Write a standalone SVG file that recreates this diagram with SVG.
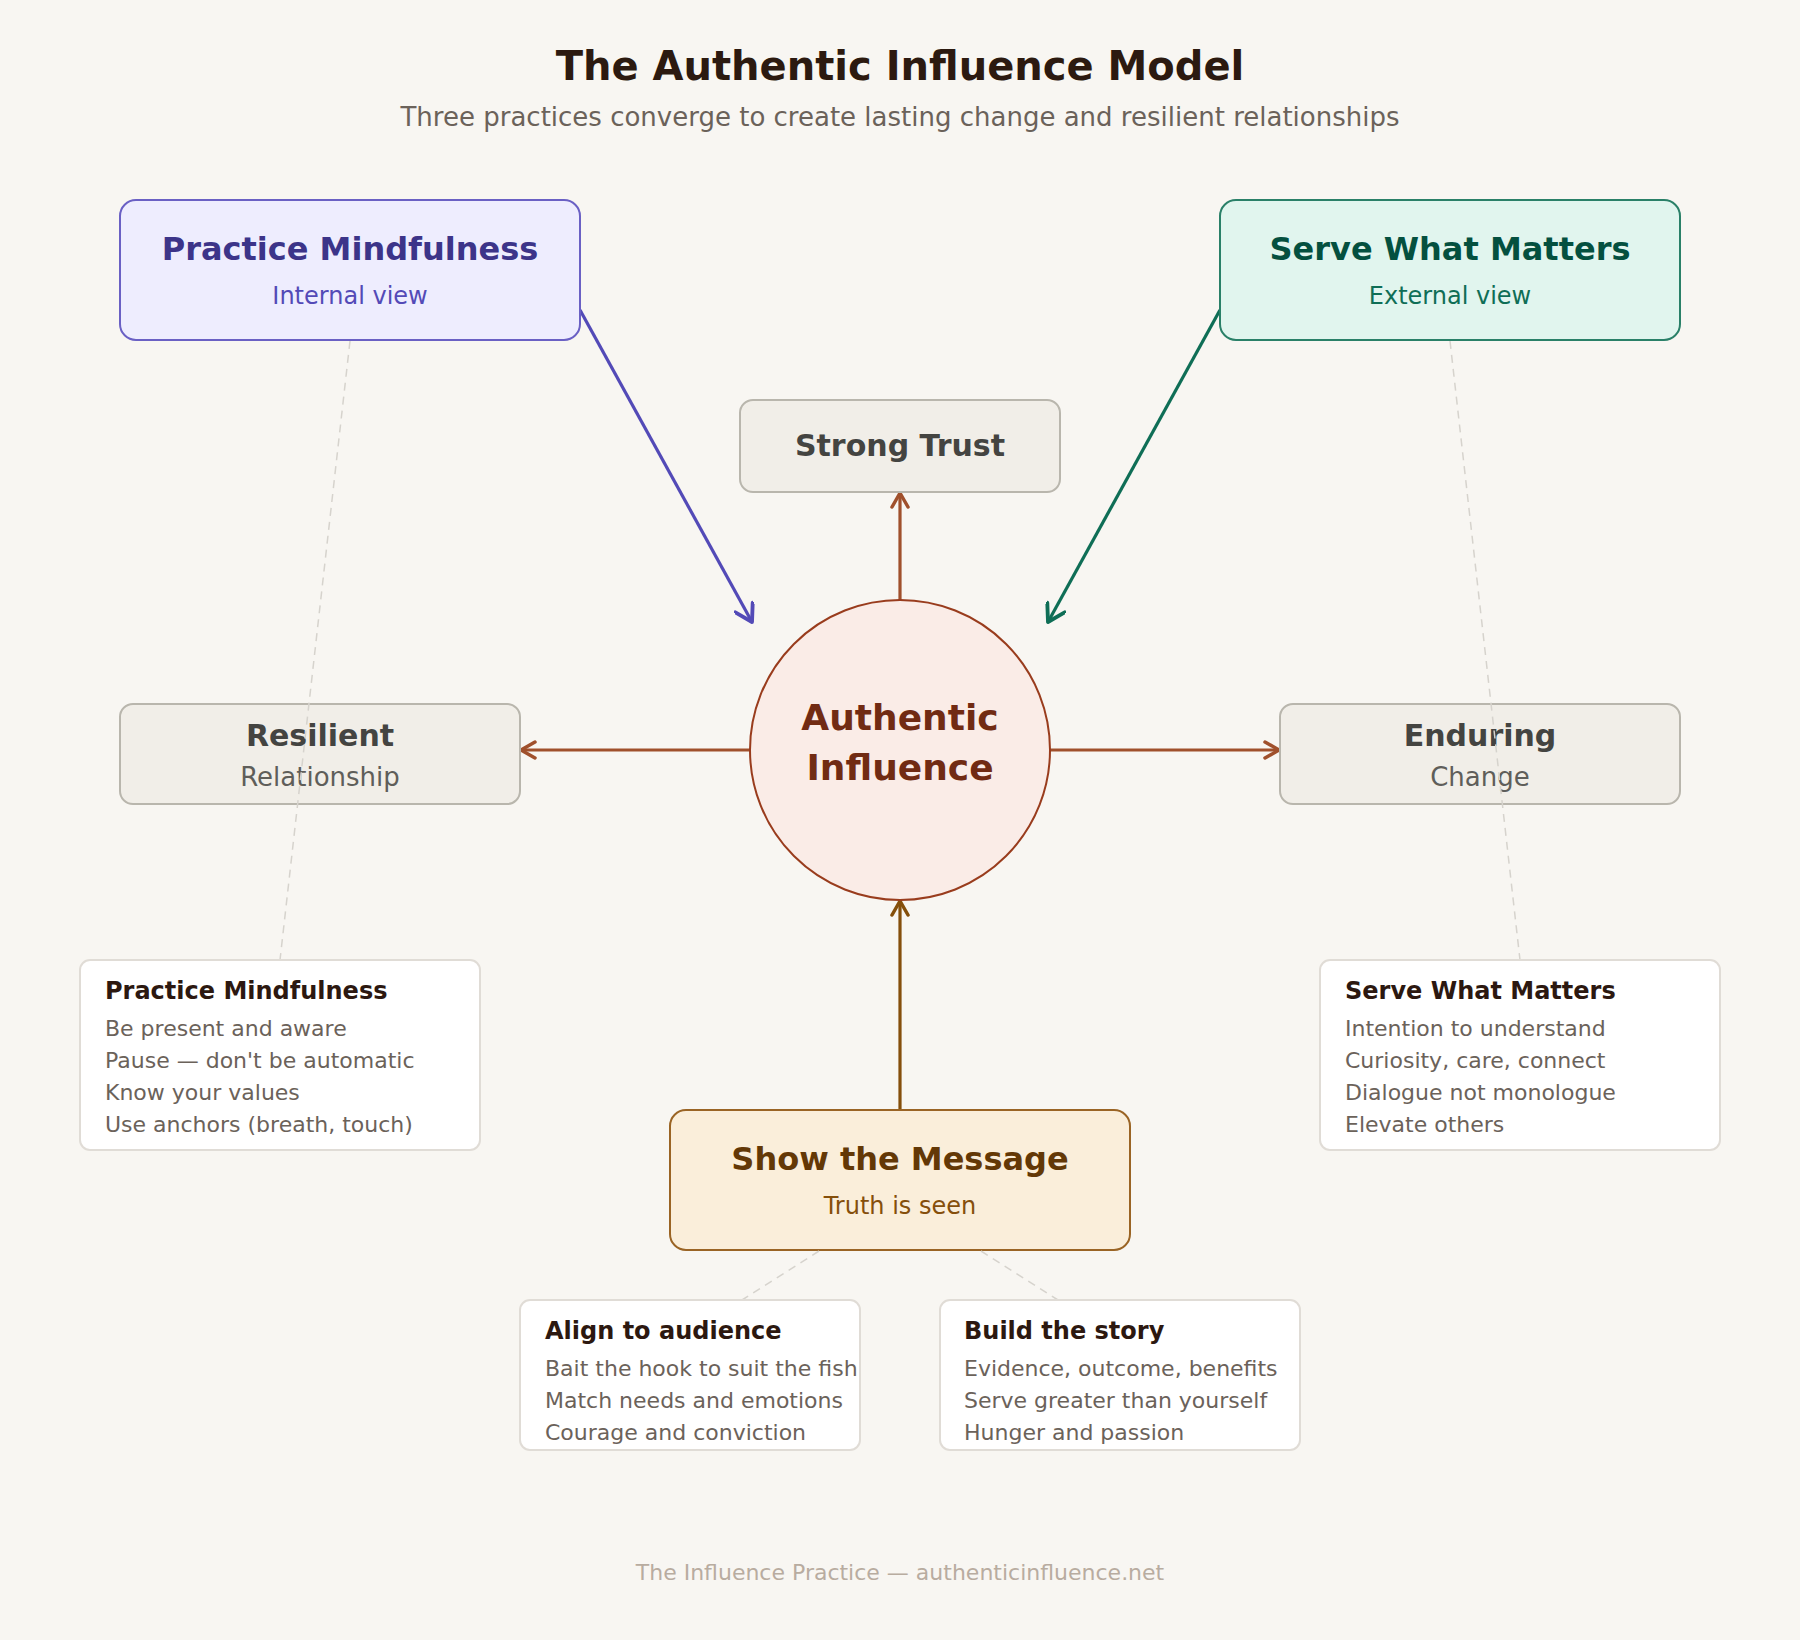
<svg xmlns="http://www.w3.org/2000/svg" width="1800" height="1640" viewBox="0 0 1800 1640">
<defs>
<style>
text{font-family:"DejaVu Sans","Liberation Sans",sans-serif;text-anchor:middle}
.b{font-weight:bold}
.ntitle{font-weight:bold;font-size:24px;fill:#2c1810;text-anchor:start}
.nline{font-size:22px;fill:#6b625a;text-anchor:start}
.note{fill:#ffffff;stroke:#e0dcd6;stroke-width:2}
.grey{fill:#f1eee8;stroke:#b9b6ad;stroke-width:2}
.gt{font-weight:bold;font-size:30px;fill:#444441}
.gs{font-size:26px;fill:#5f5e5a}
.dash{stroke:#d6d3cd;stroke-width:1.5;stroke-dasharray:8 6;fill:none}
</style>
<marker id="aS" viewBox="0 0 20 20" refX="18" refY="10" markerWidth="20" markerHeight="20" markerUnits="userSpaceOnUse" orient="auto"><path d="M4,2 L18,10 L4,18" fill="none" stroke="#a0502c" stroke-width="3.5" stroke-linecap="round" stroke-linejoin="round"/></marker>
<marker id="aB" viewBox="0 0 20 20" refX="18" refY="10" markerWidth="20" markerHeight="20" markerUnits="userSpaceOnUse" orient="auto"><path d="M4,2 L18,10 L4,18" fill="none" stroke="#854f0b" stroke-width="3.5" stroke-linecap="round" stroke-linejoin="round"/></marker>
<marker id="aP" viewBox="0 0 20 20" refX="18" refY="10" markerWidth="22" markerHeight="22" markerUnits="userSpaceOnUse" orient="auto"><path d="M3,1 L18,10 L3,19" fill="none" stroke="#534ab7" stroke-width="3.5" stroke-linecap="round" stroke-linejoin="round"/></marker>
<marker id="aG" viewBox="0 0 20 20" refX="18" refY="10" markerWidth="22" markerHeight="22" markerUnits="userSpaceOnUse" orient="auto"><path d="M3,1 L18,10 L3,19" fill="none" stroke="#0f6e56" stroke-width="3.5" stroke-linecap="round" stroke-linejoin="round"/></marker>
</defs>
<rect width="1800" height="1640" fill="#f8f6f2"/>

<text x="900" y="80" class="b" font-size="40" fill="#2c1a10">The Authentic Influence Model</text>
<text x="900" y="126" font-size="26" fill="#6b625a">Three practices converge to create lasting change and resilient relationships</text>

<g id="connectors">
<line x1="580" y1="310" x2="752" y2="622" stroke="#534ab7" stroke-width="3.2" marker-end="url(#aP)"/>
<line x1="1220" y1="310" x2="1048" y2="622" stroke="#0f6e56" stroke-width="3.2" marker-end="url(#aG)"/>
<line x1="900" y1="600" x2="900" y2="493" stroke="#a0502c" stroke-width="3.2" marker-end="url(#aS)"/>
<line x1="750" y1="750" x2="521" y2="750" stroke="#a0502c" stroke-width="3.2" marker-end="url(#aS)"/>
<line x1="1050" y1="750" x2="1279" y2="750" stroke="#a0502c" stroke-width="3.2" marker-end="url(#aS)"/>
<line x1="900" y1="1110" x2="900" y2="901" stroke="#854f0b" stroke-width="3.2" marker-end="url(#aB)"/>
</g>

<g id="mindfulness">
<rect x="120" y="200" width="460" height="140" rx="16" fill="#eeedfe" stroke="#6a60c4" stroke-width="2"/>
<text x="350" y="260" class="b" font-size="32" fill="#3c3489">Practice Mindfulness</text>
<text x="350" y="304" font-size="24" fill="#534ab7">Internal view</text>
</g>

<g id="serve">
<rect x="1220" y="200" width="460" height="140" rx="16" fill="#e1f5ee" stroke="#2a8068" stroke-width="2"/>
<text x="1450" y="260" class="b" font-size="32" fill="#04503f">Serve What Matters</text>
<text x="1450" y="304" font-size="24" fill="#0f6e56">External view</text>
</g>

<g id="trust">
<rect class="grey" x="740" y="400" width="320" height="92" rx="13"/>
<text x="900" y="456" class="gt">Strong Trust</text>
</g>

<g id="center">
<circle cx="900" cy="750" r="150" fill="#faece7" stroke="#993c1d" stroke-width="2"/>
<text x="900" y="730" class="b" font-size="36" fill="#712b13">Authentic</text>
<text x="900" y="780" class="b" font-size="36" fill="#712b13">Influence</text>
</g>

<g id="resilient">
<rect class="grey" x="120" y="704" width="400" height="100" rx="13"/>
<text x="320" y="746" class="gt">Resilient</text>
<text x="320" y="786" class="gs">Relationship</text>
</g>

<g id="enduring">
<rect class="grey" x="1280" y="704" width="400" height="100" rx="13"/>
<text x="1480" y="746" class="gt">Enduring</text>
<text x="1480" y="786" class="gs">Change</text>
</g>

<g id="message">
<rect x="670" y="1110" width="460" height="140" rx="16" fill="#faeeda" stroke="#9a6424" stroke-width="2"/>
<text x="900" y="1170" class="b" font-size="32" fill="#633806">Show the Message</text>
<text x="900" y="1214" font-size="24" fill="#854f0b">Truth is seen</text>
</g>

<g id="leaders">
<line class="dash" x1="350" y1="341" x2="280" y2="960"/>
<line class="dash" x1="1450" y1="341" x2="1520" y2="960"/>
<line class="dash" x1="819" y1="1251" x2="742" y2="1300"/>
<line class="dash" x1="981" y1="1251" x2="1058" y2="1300"/>
</g>

<g id="note-mindfulness">
<rect class="note" x="80" y="960" width="400" height="190" rx="10"/>
<text x="105" y="999" class="ntitle">Practice Mindfulness</text>
<text x="105" y="1036" class="nline">Be present and aware</text>
<text x="105" y="1068" class="nline">Pause — don't be automatic</text>
<text x="105" y="1100" class="nline">Know your values</text>
<text x="105" y="1132" class="nline">Use anchors (breath, touch)</text>
</g>

<g id="note-serve">
<rect class="note" x="1320" y="960" width="400" height="190" rx="10"/>
<text x="1345" y="999" class="ntitle">Serve What Matters</text>
<text x="1345" y="1036" class="nline">Intention to understand</text>
<text x="1345" y="1068" class="nline">Curiosity, care, connect</text>
<text x="1345" y="1100" class="nline">Dialogue not monologue</text>
<text x="1345" y="1132" class="nline">Elevate others</text>
</g>

<g id="note-align">
<rect class="note" x="520" y="1300" width="340" height="150" rx="10"/>
<text x="545" y="1339" class="ntitle">Align to audience</text>
<text x="545" y="1376" class="nline">Bait the hook to suit the fish</text>
<text x="545" y="1408" class="nline">Match needs and emotions</text>
<text x="545" y="1440" class="nline">Courage and conviction</text>
</g>

<g id="note-story">
<rect class="note" x="940" y="1300" width="360" height="150" rx="10"/>
<text x="964" y="1339" class="ntitle">Build the story</text>
<text x="964" y="1376" class="nline">Evidence, outcome, benefits</text>
<text x="964" y="1408" class="nline">Serve greater than yourself</text>
<text x="964" y="1440" class="nline">Hunger and passion</text>
</g>

<text x="900" y="1580" font-size="22" fill="#b8aca0">The Influence Practice — authenticinfluence.net</text>
</svg>
